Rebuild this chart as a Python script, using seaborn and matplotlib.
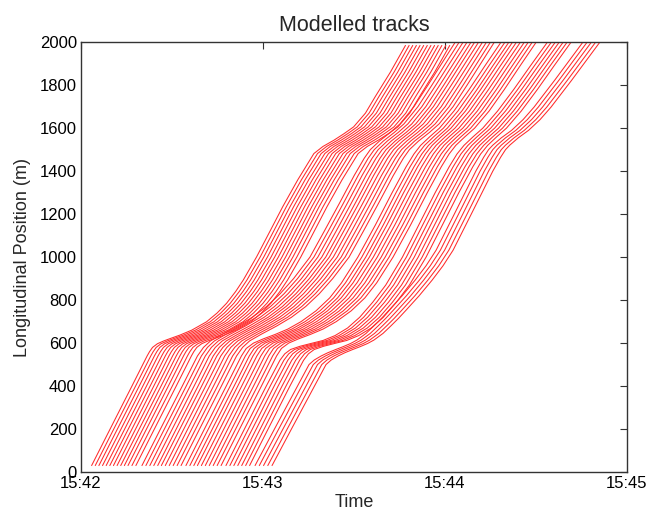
import matplotlib
matplotlib.use("Agg")
import matplotlib.pyplot as plt
import seaborn as sns
import pandas as pd

# entry times at the upstream end (seconds after 15:42:00), one per vehicle
entry_g1 = [3.5, 4.7, 5.9, 7.1, 8.3, 9.5, 10.7, 11.9, 13.1, 14.3, 15.5, 16.8, 18.1]
entry_g2 = [20.1, 21.4, 22.7, 24.0, 25.3, 26.5, 27.8, 29.1, 30.4, 31.7, 33.0]
entry_g3 = [34.6, 35.9, 37.2, 38.4, 39.7, 41.0, 42.3, 43.6, 44.9, 46.2]
entry_g4 = [47.8, 49.1, 50.4, 51.7, 53.0, 54.3, 55.6]
entry_g5 = [57.4, 58.8, 60.2, 61.6, 63.0]

# travel profiles: position (m) and time since entry (s)
pos_g1 = [30, 200, 400, 540, 560, 580, 597, 610, 622, 637, 660, 699, 740, 785, 840,
          893, 1001, 1120, 1234, 1360, 1482, 1515, 1544, 1575, 1606, 1670, 1746, 1860, 1985]
off_g1 = [0, 6.1, 13.3, 18.3, 19.1, 20.1, 21.7, 23.8, 26.1, 29.1, 33.0, 37.9, 41.4, 44.5, 47.5,
          50.0, 54.4, 58.8, 63.0, 68.0, 73.3, 76.3, 79.9, 83.3, 86.4, 90.3, 93.5, 98.5, 103.5]

pos_g2 = [30, 200, 400, 540, 580, 610, 640, 680, 720, 770, 830, 900, 1000, 1120, 1250,
          1380, 1460, 1500, 1540, 1580, 1620, 1700, 1800, 1900, 2000]
off_g2 = [0, 6.1, 13.3, 18.3, 20.3, 22.6, 26.3, 31.6, 36.4, 41.1, 45.6, 50.0, 55.4, 60.1, 65.1,
          70.0, 73.3, 75.3, 78.3, 81.9, 85.1, 89.7, 94.3, 98.8, 103.3]

pos_g3 = [30, 200, 400, 540, 575, 600, 620, 640, 665, 700, 750, 810, 880, 1000, 1150,
          1300, 1420, 1480, 1520, 1560, 1600, 1680, 1780, 1890, 2000]
off_g3 = [0, 6.1, 13.3, 18.3, 19.9, 22.3, 25.6, 29.4, 33.6, 38.0, 42.9, 47.4, 51.3, 56.7, 62.5,
          68.0, 72.6, 75.2, 77.4, 80.4, 83.6, 88.4, 93.4, 98.6, 103.9]

pos_g4 = [30, 200, 400, 520, 550, 570, 585, 598, 612, 635, 670, 720, 790, 870, 1000,
          1150, 1300, 1420, 1480, 1520, 1560, 1600, 1680, 1780, 1890, 2000]
off_g4 = [0, 6.1, 13.3, 17.8, 19.4, 21.3, 24.4, 28.0, 32.0, 36.0, 40.1, 44.1, 48.4, 52.7, 58.2,
          63.6, 69.0, 73.6, 76.2, 78.5, 81.5, 84.7, 89.6, 94.9, 100.4, 106.0]

pos_g5 = [30, 200, 400, 500, 521, 540, 555, 570, 583, 598, 614, 645, 680, 715, 753,
          820, 893, 960, 1032, 1200, 1400, 1465, 1500, 1521, 1555, 1590, 1640, 1698, 1823, 2000]
off_g5 = [0, 6.4, 14.0, 17.8, 19.5, 21.8, 24.0, 26.6, 29.0, 31.5, 33.6, 36.6, 39.2, 41.7, 44.2,
          48.5, 52.8, 56.4, 59.7, 65.7, 72.8, 75.4, 77.0, 78.4, 81.2, 84.6, 88.4, 92.0, 98.8, 108.1]

groups = [
    (entry_g1, pos_g1, off_g1),
    (entry_g2, pos_g2, off_g2),
    (entry_g3, pos_g3, off_g3),
    (entry_g4, pos_g4, off_g4),
    (entry_g5, pos_g5, off_g5),
]

rows = []
track = 0
for entries, pos, off in groups:
    for t0 in entries:
        for p, dt in zip(pos, off):
            rows.append({"track": track, "time": t0 + dt, "position": p})
        track += 1
df = pd.DataFrame(rows)

sns.set_style("white")
plt.rcParams["font.family"] = ["Liberation Sans", "DejaVu Sans"]

fig = plt.figure(figsize=(6.64, 5.15), dpi=100)
ax = fig.add_axes([0.122, 0.0835, 0.822, 0.8345])

sns.lineplot(data=df, x="time", y="position", units="track", estimator=None,
             sort=False, color="#ff2a2a", linewidth=0.75, ax=ax, legend=False)

ax.set_xlim(0, 180)
ax.set_ylim(0, 2000)
ax.set_xticks([0, 60, 120, 180])
ax.set_xticklabels(["15:42", "15:43", "15:44", "15:45"])
ax.set_yticks(range(0, 2001, 200))
ax.tick_params(direction="in", length=5, width=0.8, top=True, right=True,
               labelsize=12, colors="#333333", labelcolor="black", pad=3)
for s in ax.spines.values():
    s.set_color("#333333")
    s.set_linewidth(1.0)

ax.set_xlabel("Time", fontsize=13, labelpad=2)
ax.set_ylabel("Longitudinal Position (m)", fontsize=13, labelpad=6)
ax.set_title("Modelled tracks", fontsize=15.5, pad=8)

fig.savefig("out.png", dpi=100)
